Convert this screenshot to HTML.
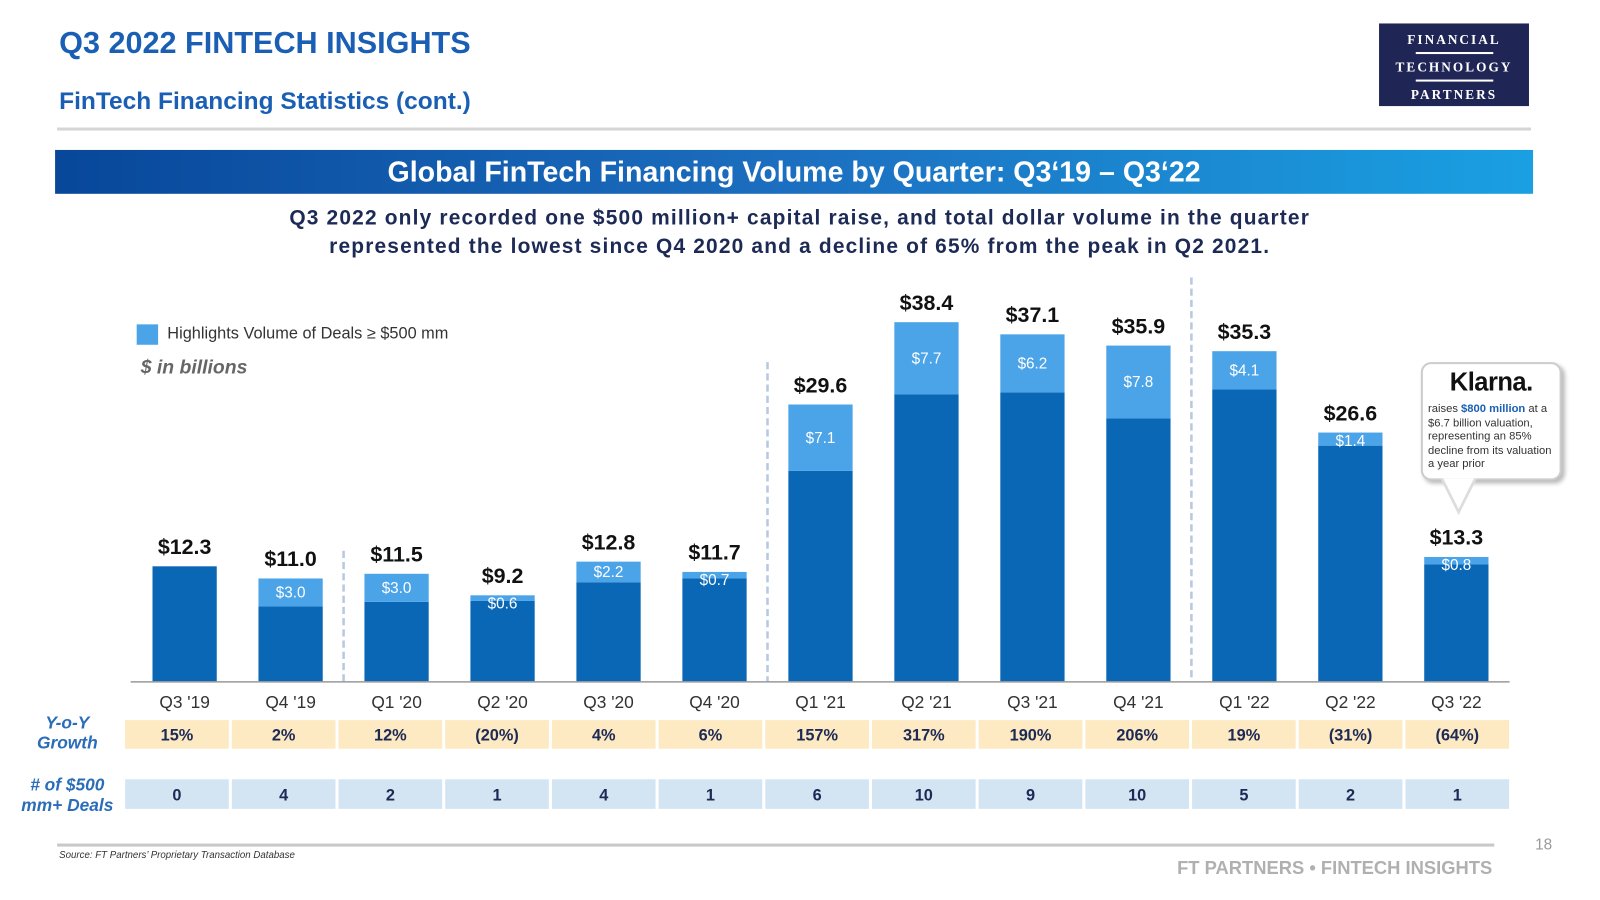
<!DOCTYPE html>
<html><head><meta charset="utf-8">
<style>
html,body{margin:0;padding:0;background:#fff;}
body{width:1600px;height:900px;overflow:hidden;position:relative;font-family:"Liberation Sans",sans-serif;}
#wrap{position:absolute;left:0;top:0;width:1569px;height:882px;transform:scale(1.02);transform-origin:0 0;}
.abs{position:absolute;}
</style></head><body>
<div id="wrap">
<div class="abs" style="left:58px;top:26px;font-size:30px;font-weight:bold;color:#1a5fb4;">Q3 2022 FINTECH INSIGHTS</div>
<div class="abs" style="left:58px;top:86px;font-size:24px;font-weight:bold;color:#1a5fb4;">FinTech Financing Statistics (cont.)</div>
<div class="abs" style="left:1352px;top:23px;width:147px;height:81px;background:#1f2656;color:#fff;font-family:'Liberation Serif',serif;font-weight:bold;text-align:center;font-size:13px;letter-spacing:2px;">
<div style="margin-top:8px;">FINANCIAL</div>
<div style="width:76px;height:2px;background:#fff;margin:4px auto 5px;"></div>
<div>TECHNOLOGY</div>
<div style="width:76px;height:2px;background:#fff;margin:4px auto 5px;"></div>
<div>PARTNERS</div></div>
<div class="abs" style="left:56px;top:125px;width:1445px;height:3px;background:#d6d6d6;"></div>
<div class="abs" style="left:54px;top:147px;width:1449px;height:43px;background:linear-gradient(90deg,#08479a,#1c6fc0 50%,#1aa0e2);color:#fff;font-size:28px;font-weight:bold;text-align:center;line-height:43px;">Global FinTech Financing Volume by Quarter: Q3‘19 – Q3‘22</div>
<div class="abs" style="left:0;top:200px;width:1568px;text-align:center;font-size:20.5px;font-weight:bold;color:#1c2a55;line-height:28px;letter-spacing:1.15px;">Q3 2022 only recorded one $500 million+ capital raise, and total dollar volume in the quarter<br>represented the lowest since Q4 2020 and a decline of 65% from the peak in Q2 2021.</div>
<div class="abs" style="left:134px;top:318px;width:21px;height:20px;background:#4ba3e8;"></div>
<div class="abs" style="left:164px;top:319px;font-size:16px;color:#333;">Highlights Volume of Deals ≥ $500 mm</div>
<div class="abs" style="left:138px;top:350px;font-size:19px;font-style:italic;font-weight:bold;color:#666;">$ in billions</div>
<svg id="chart" class="abs" style="left:0;top:0;" width="1569" height="882"></svg>
<div class="abs" style="left:20px;top:699px;width:92px;text-align:center;font-size:17px;font-style:italic;font-weight:bold;color:#2a6db8;line-height:20px;">Y-o-Y<br>Growth</div>
<div class="abs" style="left:14px;top:760px;width:104px;text-align:center;font-size:17px;font-style:italic;font-weight:bold;color:#2a6db8;line-height:20px;"># of $500<br>mm+ Deals</div>
<div class="abs" style="left:1393px;top:355px;width:134px;height:112px;border:2px solid #ccc;border-radius:10px;background:#fff;box-shadow:3px 3px 4px #bbb;">
<div style="text-align:center;font-size:25px;font-weight:bold;color:#111;margin-top:4px;letter-spacing:-0.5px;">Klarna.</div>
<div style="font-size:11px;color:#333;line-height:13.5px;padding:5px 4px 0 5px;">raises <b style="color:#1a5fb4">$800 million</b> at a $6.7 billion valuation, representing an 85% decline from its valuation a year prior</div></div>
<svg class="abs" style="left:1412px;top:469px;" width="40" height="40"><polygon points="0,0 36,0 18,36" fill="#ddd"/><polygon points="3,0 33,0 18,30" fill="#fff"/></svg>
<div class="abs" style="left:56px;top:827px;width:1409px;height:3px;background:#c8c8c8;"></div>
<div class="abs" style="left:58px;top:833px;font-size:9.5px;font-style:italic;color:#333;">Source: FT Partners’ Proprietary Transaction Database</div>
<div class="abs" style="left:1505px;top:820px;font-size:15px;color:#999;">18</div>
<div class="abs" style="left:0;top:841px;width:1463px;text-align:right;font-size:18px;font-weight:bold;color:#b0b0b0;">FT PARTNERS • FINTECH INSIGHTS</div>
</div>
<script>
const categories=["Q3 '19","Q4 '19","Q1 '20","Q2 '20","Q3 '20","Q4 '20","Q1 '21","Q2 '21","Q3 '21","Q4 '21","Q1 '22","Q2 '22","Q3 '22"];
const totals=[12.3,11.0,11.5,9.2,12.8,11.7,29.6,38.4,37.1,35.9,35.3,26.6,13.3];
const highlights=[0,3.0,3.0,0.6,2.2,0.7,7.1,7.7,6.2,7.8,4.1,1.4,0.8];
const yoyGrowth=["15%","2%","12%","(20%)","4%","6%","157%","317%","190%","206%","19%","(31%)","(64%)"];
const dealCounts=[0,4,2,1,4,1,6,10,9,10,5,2,1];
const svg=document.getElementById('chart');
const NS='http://www.w3.org/2000/svg';
const baseY=668, pxPer=9.17, x0=181, step=103.9, bw=63, tx0=173.5, tStep=104.6;
const xPos=i=>x0+i*step;
const tPos=i=>tx0+i*tStep;
const yPos=v=>baseY-v*pxPer;
function mk(tag,attrs){const e=document.createElementNS(NS,tag);for(const k in attrs)e.setAttribute(k,attrs[k]);svg.appendChild(e);return e;}
[[1.5,540],[5.5,355],[9.5,272]].forEach(d=>{const l=mk('line',{x1:xPos(d[0]),x2:xPos(d[0]),y1:d[1],y2:baseY,stroke:'#b8c8e0','stroke-width':2.5,'stroke-dasharray':'7,4'});

});
categories.forEach((c,i)=>{
 const cx=xPos(i),top=yPos(totals[i]),hTop=yPos(totals[i]-highlights[i]);
 const tx=tPos(i);
 const b=mk('rect',{x:cx-bw/2,y:hTop,width:bw,height:baseY-hTop,fill:'#0a67b6'});
 
 
 if(highlights[i]>0){
  const h=mk('rect',{x:cx-bw/2,y:top,width:bw,height:hTop-top,fill:'#4ba3e8'});
  
  
  const seg=hTop-top;
  const t=mk('text',{x:cx,y:top+Math.max(seg/2,8)+5,'text-anchor':'middle','font-size':15,fill:'#fff'});
  t.textContent='$'+highlights[i].toFixed(1);
  
  
 }
 const v=mk('text',{x:cx,y:top-12,'text-anchor':'middle','font-size':21,'font-weight':'bold',fill:'#111'});
 v.textContent='$'+totals[i].toFixed(1);
 
 
 const cl=mk('text',{x:cx,y:694,'text-anchor':'middle','font-size':17,fill:'#333'});
 cl.textContent=categories[i];
 
 
 const yc=mk('rect',{x:tx-tStep/2+1.5,y:706,width:tStep-3,height:28,fill:'#fde9c2'});
 
 
 const yt=mk('text',{x:tx,y:726,'text-anchor':'middle','font-size':16,'font-weight':'bold',fill:'#1c2a55'});
 yt.textContent=yoyGrowth[i];
 
 
 const dc=mk('rect',{x:tx-tStep/2+1.5,y:764,width:tStep-3,height:29,fill:'#d3e4f3'});
 
 
 const dt=mk('text',{x:tx,y:785,'text-anchor':'middle','font-size':16,'font-weight':'bold',fill:'#1c2a55'});
 dt.textContent=dealCounts[i];
 
 
});
const ax=mk('line',{x1:128,x2:1480,y1:baseY+0.5,y2:baseY+0.5,stroke:'#999','stroke-width':1.5});


</script>
</body></html>
